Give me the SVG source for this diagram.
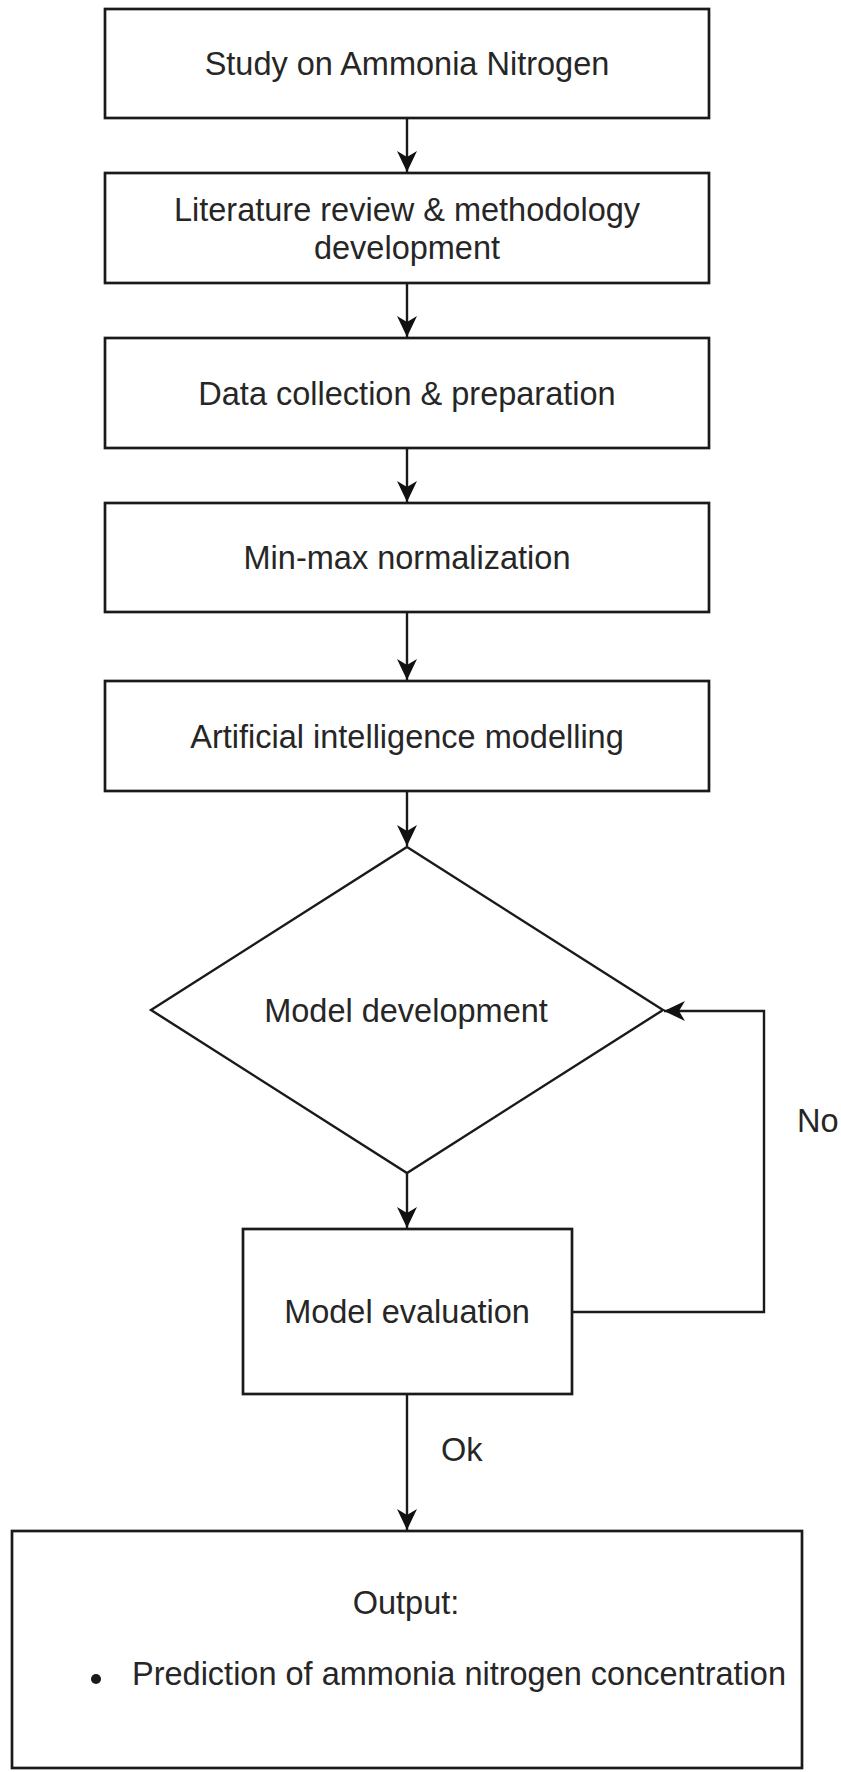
<svg xmlns="http://www.w3.org/2000/svg" width="841" height="1772" viewBox="0 0 841 1772">
<style>
.box{fill:#ffffff;stroke:#1a1a1a;stroke-width:2.7}
.dia{fill:#ffffff;stroke:#1a1a1a;stroke-width:2.4}
.lbl{font-family:"Liberation Sans",Arial,sans-serif;font-size:32.5px;fill:#262626;text-anchor:middle}
.lbl-l{font-family:"Liberation Sans",Arial,sans-serif;font-size:32.5px;fill:#262626;text-anchor:start}
.edge{fill:none;stroke:#1a1a1a;stroke-width:2.4}
</style>
<defs>
<marker id="arr" viewBox="-22 -11 23 22" markerWidth="23" markerHeight="22" refX="0" refY="0" markerUnits="userSpaceOnUse" orient="auto">
<path d="M0,0 L-21,-10 L-15,0 L-21,10 Z" fill="#111111"/>
</marker>
</defs>
<rect width="841" height="1772" fill="#ffffff"/>
<g id="connectors">
<line class="edge" x1="407" y1="118" x2="407" y2="172" marker-end="url(#arr)"/>
<line class="edge" x1="407" y1="283" x2="407" y2="337" marker-end="url(#arr)"/>
<line class="edge" x1="407" y1="448" x2="407" y2="502" marker-end="url(#arr)"/>
<line class="edge" x1="407" y1="612" x2="407" y2="680" marker-end="url(#arr)"/>
<line class="edge" x1="407" y1="791" x2="407" y2="846" marker-end="url(#arr)"/>
<line class="edge" x1="407" y1="1173" x2="407" y2="1228" marker-end="url(#arr)"/>
<line class="edge" x1="407" y1="1394" x2="407" y2="1530" marker-end="url(#arr)"/>
<polyline class="edge" points="572,1312 764,1312 764,1011 664,1011" marker-end="url(#arr)"/>
<text class="lbl-l" x="797" y="1132">No</text>
<text class="lbl-l" x="441" y="1461">Ok</text>
</g>
<g id="n1">
<rect class="box" x="105" y="9" width="604" height="109"/>
<text class="lbl" x="407" y="75">Study on Ammonia Nitrogen</text>
</g>
<g id="n2">
<rect class="box" x="105" y="173" width="604" height="110"/>
<text class="lbl" x="407" y="221">Literature review &amp; methodology</text>
<text class="lbl" x="407" y="259">development</text>
</g>
<g id="n3">
<rect class="box" x="105" y="338" width="604" height="110"/>
<text class="lbl" x="407" y="405">Data collection &amp; preparation</text>
</g>
<g id="n4">
<rect class="box" x="105" y="503" width="604" height="109"/>
<text class="lbl" x="407" y="569">Min-max normalization</text>
</g>
<g id="n5">
<rect class="box" x="105" y="681" width="604" height="110"/>
<text class="lbl" x="407" y="748">Artificial intelligence modelling</text>
</g>
<g id="n6">
<polygon class="dia" points="407,847 663,1010 407,1173 151,1010"/>
<text class="lbl" x="406" y="1022">Model development</text>
</g>
<g id="n7">
<rect class="box" x="243" y="1229" width="329" height="165"/>
<text class="lbl" x="407" y="1323">Model evaluation</text>
</g>
<g id="n8">
<rect class="box" x="12" y="1531" width="790" height="237"/>
<text class="lbl" x="406" y="1614">Output:</text>
<circle cx="96" cy="1679" r="5" fill="#1a1a1a"/>
<text class="lbl-l" x="132" y="1685">Prediction of ammonia nitrogen concentration</text>
</g>
</svg>
